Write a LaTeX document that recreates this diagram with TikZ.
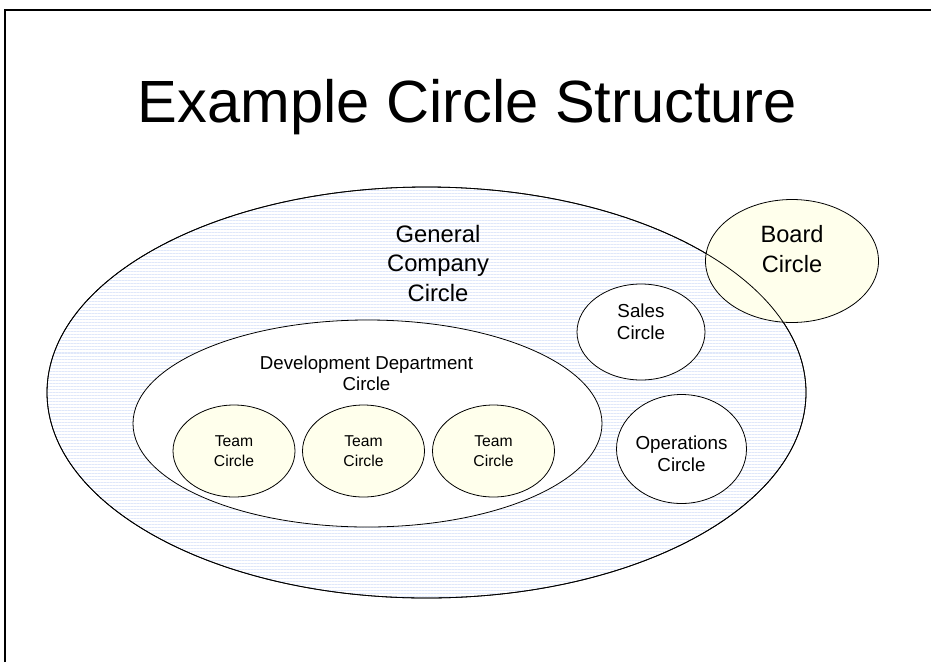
\documentclass[tikz,border=0pt]{standalone}
\usepackage{fontspec}
\setmainfont{Liberation Sans}
\usetikzlibrary{shapes.geometric,patterns.meta,positioning}

\definecolor{stripeblue}{RGB}{224,232,250}
\definecolor{creamfill}{RGB}{255,255,236}

\tikzset{
  ring/.style={ellipse, draw=black, line width=0.8pt, inner sep=0pt},
  striped/.style={ring, pattern={Lines[distance=3pt,line width=1pt]}, pattern color=stripeblue},
  cream/.style={ring, fill=creamfill},
  plain/.style={ring, fill=white},
  txt/.style={align=center, inner sep=0pt}
}

\begin{document}
\begin{tikzpicture}[x=1pt, y=-1pt]
      \useasboundingbox (0,0) rectangle (931,662);
      \draw[line width=2pt] (5,662) -- (5,10) -- (931,10);

      \node[txt, font=\fontsize{59.6}{70}\selectfont, anchor=base] (title) at (467.5,122) {Example Circle Structure};

      % outer circle and the board circle lying over its edge
      \node[striped, minimum width=759pt, minimum height=411pt] (general) at (426.5,392.5) {};
      \node[cream, minimum width=173pt, minimum height=123pt] (board) at (792,261) {};
      \draw[line width=0.8pt] (general.center) ellipse [x radius=379.5pt, y radius=205.5pt];

      \node[plain, minimum width=128pt, minimum height=96pt] (sales) at (641,332) {};
      \node[plain, minimum width=130pt, minimum height=109pt] (operations) at (681.5,449) {};
      \node[plain, minimum width=469pt, minimum height=207pt] (development) at (367.5,423.5) {};

      \foreach \tx [count=\i] in {234,363.5,493.5}
        \node[cream, minimum width=122pt, minimum height=92pt] (team\i) at (\tx,451) {};

      % labels
      \node[txt, font=\fontsize{23.8}{29.5}\selectfont] (generaltext) at (438,263) {General\\Company\\Circle};
      \node[txt, font=\fontsize{23.6}{30}\selectfont] (boardtext) at ([yshift=11.5pt]board.center) {Board\\Circle};
      \node[txt, font=\fontsize{18.8}{22.5}\selectfont] (salestext) at ([yshift=10pt]sales.center) {Sales\\Circle};
      \node[txt, font=\fontsize{18.8}{22}\selectfont] (operationstext) at ([yshift=-5pt]operations.center) {Operations\\Circle};
      \node[txt, font=\fontsize{18.7}{21}\selectfont] (developmenttext) at (366.5,373) {Development Department\\Circle};
      \foreach \i in {1,2,3}
        \node[txt, font=\fontsize{15.7}{20}\selectfont] (team\i text) at (team\i.center) {Team\\Circle};
    \end{tikzpicture}
\end{document}
